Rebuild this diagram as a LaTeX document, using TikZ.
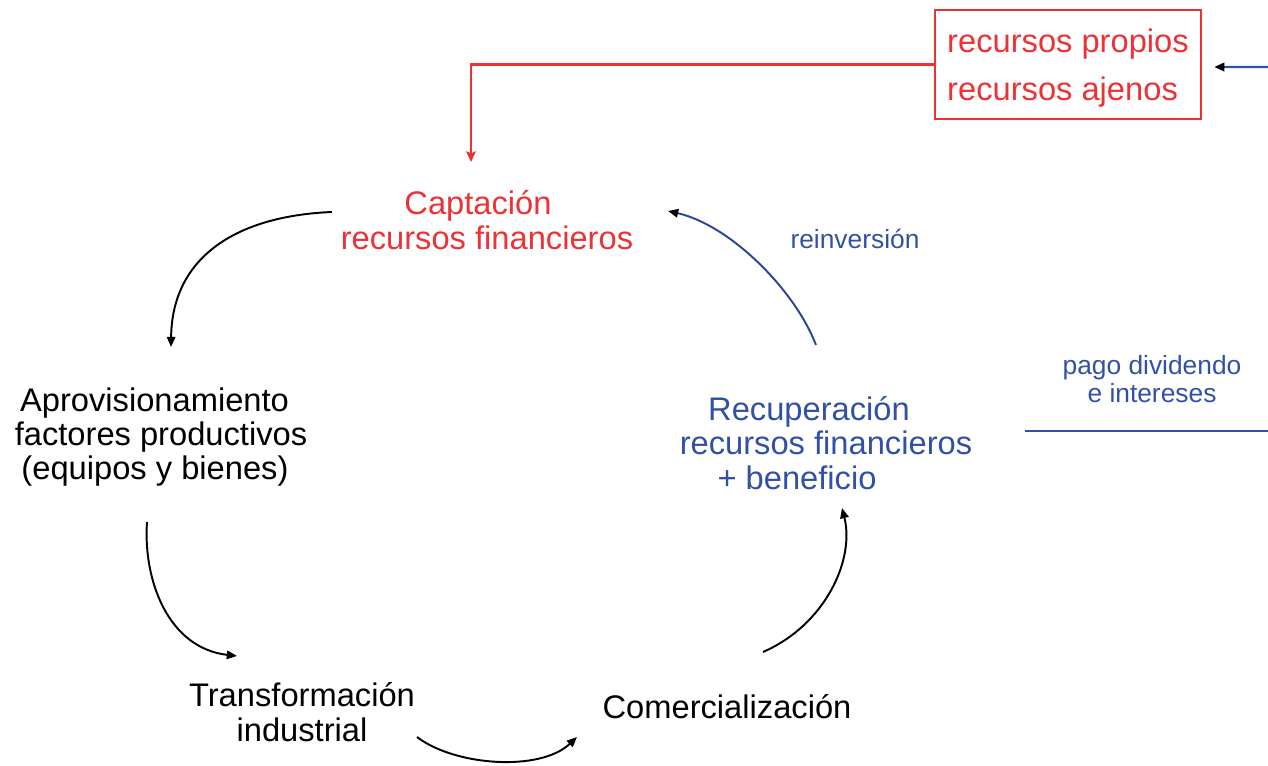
\documentclass[tikz,border=0pt]{standalone}
\usepackage{fontspec}
\setmainfont{Liberation Sans}
\usetikzlibrary{arrows.meta}
\definecolor{rojo}{RGB}{237,50,55}
\definecolor{azul}{RGB}{50,80,165}
\definecolor{azulosc}{RGB}{42,68,150}
\begin{document}
\begin{tikzpicture}[x=0.02cm, y=0.02cm,
  every node/.style={align=center, inner sep=0pt, font=\fontsize{18.6}{19.6}\selectfont},
  etapa/.style={text=black},
  rojotxt/.style={text=rojo},
  azultxt/.style={text=azul},
  etiqueta/.style={text=azul, font=\fontsize{15}{16}\selectfont},
  rojocaja/.style={draw=rojo, text=rojo, line width=1.4pt, align=left,
                   minimum width=5.32cm, minimum height=2.18cm, font=\fontsize{18.6}{27.3}\selectfont},
  flecha/.style={-{Triangle[length=5.8pt, width=4.8pt]}, line width=1.1pt, black},
  rojolinea/.style={-{Stealth[length=6pt, width=5.5pt, inset=1pt]}, line width=1.4pt, rojo},
  azullinea/.style={line width=1.4pt, azul}
]
\useasboundingbox (0,0) rectangle (1268,-766);
\node[rojotxt] (capt) at (487,-220) {Captación\hspace*{0.36cm}\\recursos financieros};
\node[etapa] (aprov) at (161,-437) {Aprovisionamiento\hspace*{0.26cm}\\factores productivos\\(equipos y bienes)\hspace*{0.24cm}};
\node[etapa] (transf) at (302,-712) {Transformación\\industrial};
\node[etapa] (comer) at (727,-707) {Comercialización};
\node[azultxt] (recup) at (826,-443) {Recuperación\hspace*{0.68cm}\\recursos financieros\\+ beneficio\hspace*{1.16cm}};
\node[rojocaja] (fuentes) at (1068,-64.5) {\rule{0pt}{18pt}recursos propios\\recursos ajenos};
\node[etiqueta] (reinv) at (855,-239) {reinversión};
\node[etiqueta] (pago) at (1152,-379) {pago dividendo\\e intereses};
\coordinate (bordesup) at (1268,-67);
\coordinate (lineaini) at (1025,-431);
\coordinate (lineafin) at (1268,-431);
\draw[flecha] ([shift={(-155,8)}]capt.center) .. controls (235,-216) and (172,-258) .. ([shift={(10,90)}]aprov.center);
\draw[flecha] ([shift={(-14,-85)}]aprov.center) .. controls (143,-580) and (168,-648) .. ([shift={(-65,56)}]transf.center);
\draw[flecha] ([shift={(115,-25)}]transf.center) .. controls (455,-766) and (540,-772) .. ([shift={(-150,-30)}]comer.center);
\draw[flecha] ([shift={(36,55)}]comer.center) .. controls (825,-625) and (855,-560) .. ([shift={(16,-65)}]recup.center);
\draw[flecha, azulosc, -{Triangle[length=5.8pt, width=4.8pt, color=black]}] ([shift={(-10,98)}]recup.center) .. controls (795,-290) and (730,-225) .. ([shift={(181,9)}]capt.center);
\draw[rojolinea] (fuentes.west) -| ([shift={(-16,58)}]capt.center);
\draw[azullinea, -{Triangle[length=5.8pt, width=4.8pt, color=black]}] (bordesup) -- ([shift={(12,-2.5)}]fuentes.east);
\draw[azullinea] (lineaini) -- (lineafin);
\end{tikzpicture}
\end{document}
